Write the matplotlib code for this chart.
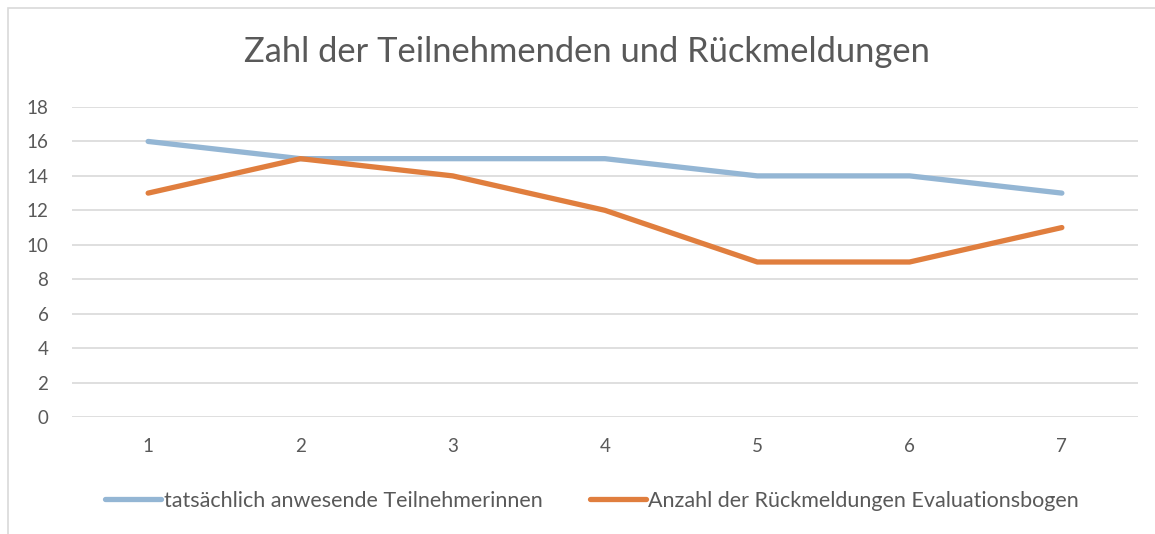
import matplotlib
matplotlib.use("Agg")
import matplotlib.pyplot as plt
from matplotlib.lines import Line2D
from matplotlib.patches import Rectangle

categories = ["1", "2", "3", "4", "5", "6", "7"]
teilnehmer = [16, 15, 15, 15, 14, 14, 13]
rueckmeldungen = [13, 15, 14, 12, 9, 9, 11]
yticks = [0, 2, 4, 6, 8, 10, 12, 14, 16, 18]
series_names = ["tatsächlich anwesende Teilnehmerinnen",
                "Anzahl der Rückmeldungen Evaluationsbogen"]

plt.rcParams['font.family'] = ['Lato', 'DejaVu Sans']
W, H = 1155, 534
fig = plt.figure(figsize=(W / 100, H / 100), dpi=100)
fig.patch.set_facecolor("white")

# chart border
fig.add_artist(Rectangle((8 / W, -0.05), 1.2, 1 - 8 / H + 0.05, transform=fig.transFigure,
                         fill=False, edgecolor="#d9d9d9", linewidth=1.2))

ax = fig.add_axes([72 / W, 1 - 417 / H, (1138 - 72) / W, (417 - 107) / H])
x = list(range(len(categories)))
c_blue = "#94b6d4"
c_orange = "#e07e3e"
ax.plot(x, teilnehmer, color=c_blue, lw=3.8, solid_capstyle="round", solid_joinstyle="round", zorder=3)
ax.plot(x, rueckmeldungen, color=c_orange, lw=3.8, solid_capstyle="round", solid_joinstyle="round", zorder=3)

ax.set_xlim(-0.5, len(categories) - 0.5)
ax.set_ylim(0, 18)
ax.set_yticks(yticks)
ax.set_xticks(x)
ax.set_xticklabels(categories)
ax.grid(axis="y", color="#d9d9d9", lw=1.2)
ax.set_axisbelow(True)
for s in ax.spines.values():
    s.set_visible(False)
ax.tick_params(length=0, labelsize=13.5, colors="#595959")
ax.tick_params(axis="x", pad=15)
ax.tick_params(axis="y", pad=17)

fig.text(587 / W, 1 - 52 / H, "Zahl der Teilnehmenden und Rückmeldungen",
         ha="center", va="center", fontsize=24.8, color="#595959")

handles = [Line2D([], [], color=c_blue, lw=3.8, solid_capstyle="round"),
           Line2D([], [], color=c_orange, lw=3.8, solid_capstyle="round")]
fig.legend(handles, series_names, loc="center", bbox_to_anchor=(592 / W, 1 - 501 / H),
           ncol=2, frameon=False, fontsize=15.5, labelcolor="#595959",
           handlelength=2.6, handletextpad=0.1, columnspacing=2.2)

fig.savefig("out.png", dpi=100)
